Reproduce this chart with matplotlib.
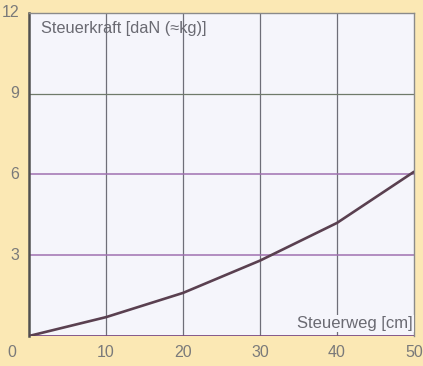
import matplotlib
matplotlib.use('Agg')
import matplotlib.pyplot as plt

plt.rcParams['font.family'] = ['Liberation Sans', 'DejaVu Sans']

# Steuerweg [cm] vs Steuerkraft [daN]
weg = [0, 10, 20, 30, 40, 50]
kraft = [0, 0.7, 1.6, 2.8, 4.2, 6.1]
x_ticks = [10, 20, 30, 40, 50]
y_ticks = [3, 6, 9, 12]

bg = '#fbe8b4'
panel = '#f5f5fb'
grey = '#7a7a7a'
purple = '#a070b0'

fig = plt.figure(figsize=(4.23, 3.66), dpi=100, facecolor=bg)
ax = fig.add_axes([0.0686, 0.082, 0.910, 0.8825])
ax.set_facecolor(panel)

ax.set_xlim(0, 50)
ax.set_ylim(0, 12)

# grid lines
for xv in x_ticks[:-1]:
    ax.axvline(xv, color='#6e6e78', lw=0.9, zorder=1)
ax.axhline(3, color=purple, lw=1.1, zorder=1)
ax.axhline(6, color=purple, lw=1.1, zorder=1)
ax.axhline(9, color='#6f7a6a', lw=0.9, zorder=1)
ax.axhline(0, color='#7a4a80', lw=2.0, zorder=3)

ax.plot(weg, kraft, color='#5a4050', lw=1.9, zorder=4, solid_capstyle='round')

for side in ['top', 'right']:
    ax.spines[side].set_color('#8a8a8a')
    ax.spines[side].set_linewidth(1.0)
ax.spines['left'].set_color('#505050')
ax.spines['left'].set_linewidth(1.8)
ax.spines['bottom'].set_visible(False)

ax.set_xticks(x_ticks)
ax.set_yticks(y_ticks)
ax.tick_params(length=0, colors=grey, labelsize=11.5)
ax.tick_params(axis='x', pad=6.5)
ax.tick_params(axis='y', pad=7)
for lab in ax.get_yticklabels():
    lab.set_verticalalignment('center')
ax.text(-0.045, -0.05, '0', transform=ax.transAxes, ha='center', va='center',
        color=grey, fontsize=11.5)

ax.text(0.03, 0.975, 'Steuerkraft [daN (\u2248kg)]', transform=ax.transAxes,
        ha='left', va='top', color='#6a6a72', fontsize=11.8)
ax.text(0.997, 0.015, 'Steuerweg [cm]', transform=ax.transAxes,
        ha='right', va='bottom', color='#6a6a72', fontsize=12,
        bbox=dict(facecolor=panel, edgecolor='none', pad=1))

fig.savefig('out.png', dpi=100, facecolor=bg)
